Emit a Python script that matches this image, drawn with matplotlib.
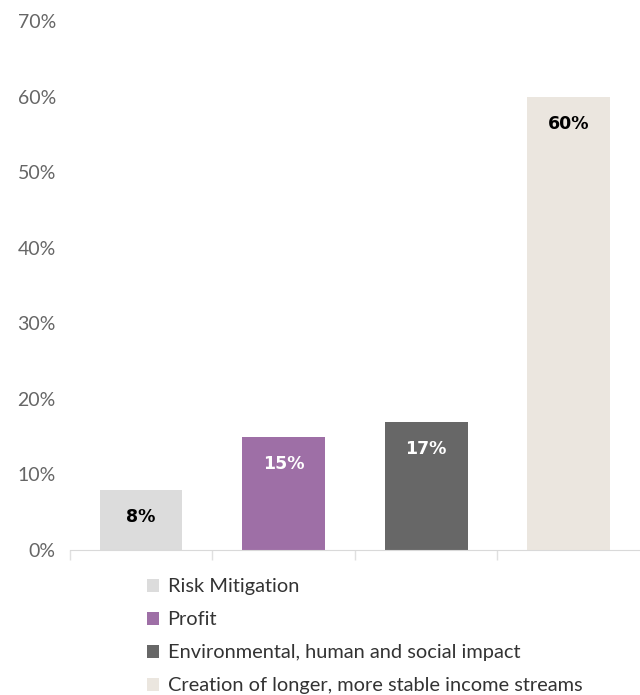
import matplotlib.pyplot as plt
from matplotlib.patches import Patch

# Data
categories = ['Risk Mitigation', 'Profit', 'Environmental, human and social impact',
              'Creation of longer, more stable income streams']
values = [8, 15, 17, 60]
colors = ['#dcdcdc', '#9e6fa6', '#676767', '#ebe6df']
label_colors = ['black', 'white', 'white', 'black']

plt.rcParams['font.family'] = ['Lato', 'DejaVu Sans']

fig = plt.figure(figsize=(6.4, 6.95), dpi=100)
ax = fig.add_axes([0.109, 0.2086, 0.891, 0.7612])

x = range(len(values))
bars = ax.bar(x, values, width=0.58, color=colors, zorder=2)

for rect, v, c in zip(bars, values, label_colors):
    ax.annotate(f'{v}%', (rect.get_x() + rect.get_width() / 2, rect.get_height()),
                xytext=(0, -20), textcoords='offset points', ha='center', va='center',
                fontsize=12.5, fontweight='bold', color=c, family='DejaVu Sans')

ax.set_xlim(-0.5, len(values) - 0.5)
ax.set_ylim(0, 70)
ax.set_yticks(range(0, 71, 10))
ax.set_yticklabels([f'{t}%' for t in range(0, 71, 10)], fontsize=14, color='#666666')
ax.tick_params(axis='y', length=0, pad=10)

# category separators under the baseline
ax.set_xticks([i - 0.5 for i in range(len(values))])
ax.set_xticklabels([])
ax.tick_params(axis='x', length=7, color='#e0e0e0', width=1)

for s in ['top', 'right', 'left']:
    ax.spines[s].set_visible(False)
ax.spines['bottom'].set_color('#d9d9d9')

handles = [Patch(facecolor=c, edgecolor='none') for c in colors]
fig.legend(handles, categories, loc='upper left', bbox_to_anchor=(0.229, 0.168),
           frameon=False, fontsize=14.4, handlelength=0.6, handleheight=0.6,
           handletextpad=0.45, labelspacing=0.8, labelcolor='#333333', borderaxespad=0,
           borderpad=0)

fig.savefig('out.png', dpi=100)
